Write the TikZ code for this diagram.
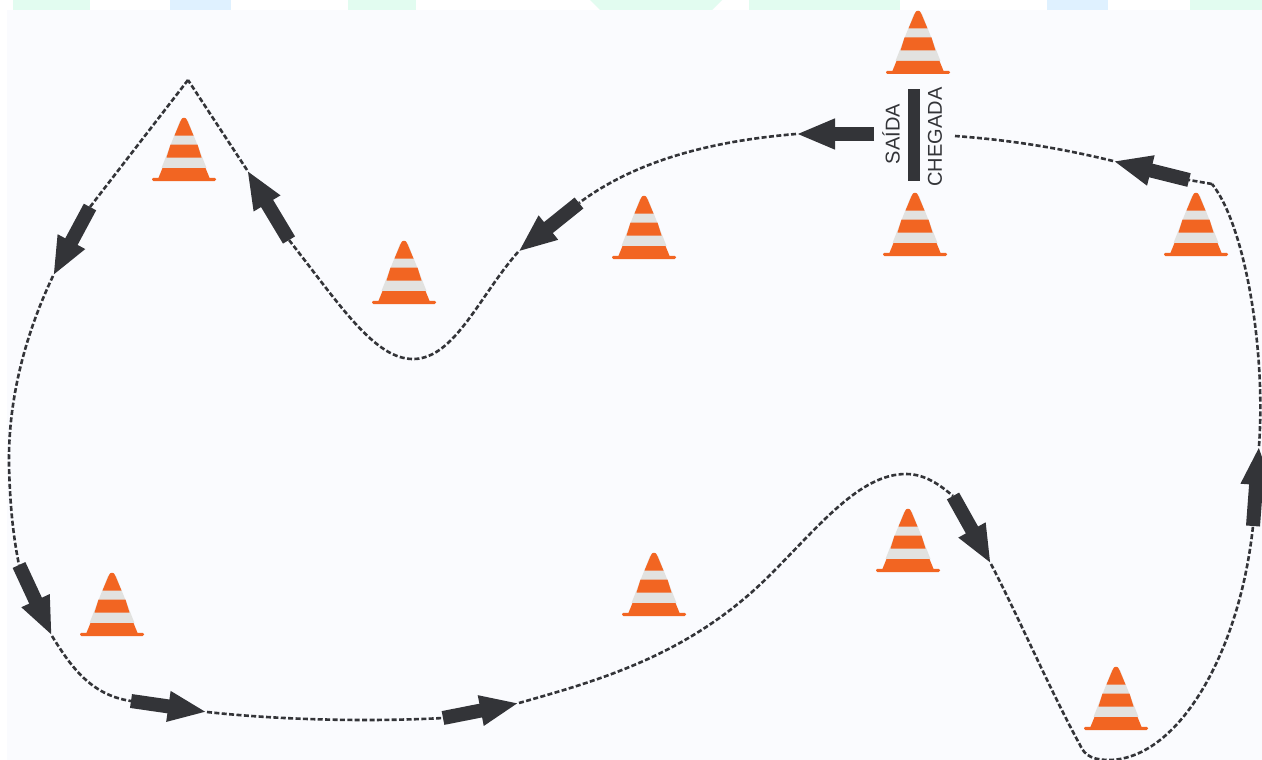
\documentclass[tikz,border=0pt]{standalone}
\usepackage{fontspec}
\setmainfont{Liberation Sans}
\usetikzlibrary{arrows.meta}
\definecolor{panel}{HTML}{FAFBFE}
\definecolor{mint}{HTML}{E2FCF0}
\definecolor{sky}{HTML}{DFF1FF}
\definecolor{conea}{HTML}{F26522}
\definecolor{coneb}{HTML}{E2E2E0}
\definecolor{ink}{HTML}{333438}
\tikzset{
  track/.style={ink,line width=2.6pt,dash pattern=on 5pt off 2.4pt},
  fat/.style={ink,line width=14pt,-{Triangle[length=39pt,width=28pt]}},
  cone/.pic={
    \fill[coneb] (-22.5,-13) -- (-4,-60) -- (4,-60) -- (22.5,-13) -- cycle;
    \fill[conea] (-26,-2) -- (-21.5,-13) -- (21.5,-13) -- (26,-2) -- cycle;
    \fill[conea] (-17.5,-23.5) -- (-13.5,-36.5) -- (13.5,-36.5) -- (17.5,-23.5) -- cycle;
    \fill[conea] (-9.5,-45.5) -- (-3,-61) .. controls (-2,-64) and (2,-64) .. (3,-61) -- (9.5,-45.5) -- cycle;
    \fill[conea,rounded corners=1.4pt] (-32,-3.2) rectangle (32,0);
  },
  lab/.style={text=ink,font=\fontsize{20}{24}\selectfont,rotate=90,inner sep=0pt}
}
\begin{document}
\begin{tikzpicture}[x=1pt,y=-1pt]
\useasboundingbox (0,0) rectangle (1262,760);
\fill[white] (0,0) rectangle (1262,760);
\fill[mint] (13,0) rectangle (90,10);
\fill[sky] (170,0) rectangle (231,10);
\fill[mint] (348,0) rectangle (416,10);
\fill[mint] (590,0) -- (722,0) -- (712,10) -- (600,10) -- cycle;
\fill[mint] (749,0) rectangle (900,10);
\fill[sky] (1047,0) rectangle (1108,10);
\fill[mint] (1190,0) rectangle (1262,10);
\fill[panel] (7,10) rectangle (1262,760);

\foreach \cx/\by/\nm in {918/74/a,915/256/b,184/181/c,404/304/d,644/259/e,1196/256/f,112/636/g,654/616/h,908/572/i,1116/730/j}
  \pic (cone\nm) at (\cx,\by) {cone};

% arrow ends
\coordinate (a1s) at (874,134); \coordinate (a1e) at (796,134);
\coordinate (a2s) at (579,203); \coordinate (a2e) at (518,252);
\coordinate (a3s) at (289,240); \coordinate (a3e) at (247,170);
\coordinate (a4s) at (90,207);  \coordinate (a4e) at (53,276);
\coordinate (a5s) at (19,565);  \coordinate (a5e) at (52,636);
\coordinate (a6s) at (131,701); \coordinate (a6e) at (207,712);
\coordinate (a7s) at (443,718); \coordinate (a7e) at (519,703);
\coordinate (a8s) at (953,496); \coordinate (a8e) at (991,564);
\coordinate (a9s) at (1253,526);\coordinate (a9e) at (1259,446);
\coordinate (a10s) at (1189,180);\coordinate (a10e) at (1113,161);
\coordinate (peak) at (188,80);
\coordinate (corner) at (1212,184);
\coordinate (finish) at (955,136);

\foreach \n in {1,...,10} \draw[fat] (a\n s) -- (a\n e);

\draw[track] (a1e) .. controls (700,142) and (630,165) .. (a2s);
\draw[track] (a2e) .. controls (480,295) and (455,358) .. (414,359)
   .. controls (375,360) and (340,305) .. (a3s);
\draw[track] (a3e) -- (peak);
\draw[track] (peak) -- (a4s);
\draw[track] (a4e) .. controls (25,335) and (8,400) .. (9,465) .. controls (10,505) and (13,535) .. (a5s);
\draw[track] (a5e) .. controls (70,665) and (90,695) .. (a6s);
\draw[track] (a6e) .. controls (280,720) and (370,722) .. (a7s);
\draw[track] (a7e) .. controls (600,680) and (690,655) .. (770,575)
   .. controls (820,525) and (860,474) .. (906,474) .. controls (925,474) and (940,485) .. (a8s);
\draw[track] (a8e) .. controls (1020,620) and (1050,690) .. (1080,745)
   .. controls (1085,757) and (1095,760) .. (1110,760)
   .. controls (1180,758) and (1240,650) .. (a9s);
\draw[track] (a9e) .. controls (1266,350) and (1245,225) .. (corner);
\draw[track] (corner) -- (a10s);
\draw[track] (a10e) .. controls (1060,148) and (1010,140) .. (finish);

\node[draw=none,fill=ink,minimum width=12pt,minimum height=92pt,inner sep=0pt] (bar) at (914,135) {};
\node[lab] (saida) at (891,134) {SAÍDA};
\node[lab] (chegada) at (935,137) {CHEGADA};
\end{tikzpicture}
\end{document}
